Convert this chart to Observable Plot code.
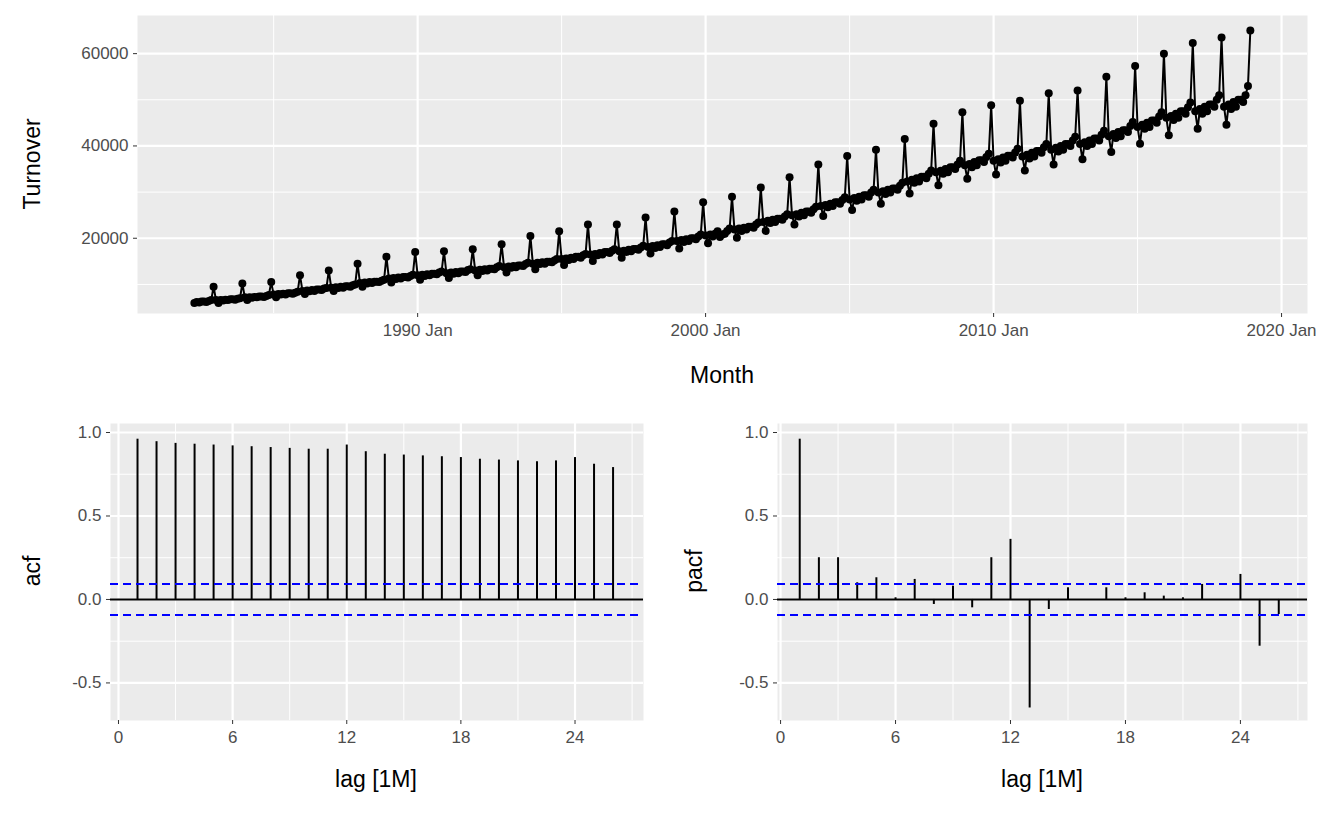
<!DOCTYPE html>
<html>
<head>
<meta charset="utf-8">
<script src="https://cdn.jsdelivr.net/npm/d3@7"></script>
<script src="https://cdn.jsdelivr.net/npm/@observablehq/plot@0.6"></script>
<style>
  body { margin: 0; background: #fff; font-family: Arial, "Liberation Sans", sans-serif; }
  #wrap { position: relative; width: 1322px; height: 817px; overflow: hidden; }
  .panel { position: absolute; }
  .title { position: absolute; font-size: 23px; color: #000; white-space: nowrap; }
  .rot { transform: translate(-50%, -50%) rotate(-90deg); }
  .hc { transform: translateX(-50%); }
</style>
</head>
<body>
<div id="wrap">
  <div class="panel" id="top" style="left:0;top:0"></div>
  <div class="panel" id="acf" style="left:0;top:390px"></div>
  <div class="panel" id="pacf" style="left:661px;top:390px"></div>
  <div class="title rot" style="left:32px;top:164px">Turnover</div>
  <div class="title hc" style="left:722px;top:362px">Month</div>
  <div class="title rot" style="left:32px;top:571px">acf</div>
  <div class="title hc" style="left:376px;top:766px">lag [1M]</div>
  <div class="title rot" style="left:694px;top:571px">pacf</div>
  <div class="title hc" style="left:1042px;top:766px">lag [1M]</div>
</div>
<script>
// monthly turnover in thousands, series starts 1982 Apr
const startYear = 1982, startMonth = 3;
const turnoverK = [
  [6.0, 6.2, 6.1, 6.3, 6.3, 6.2, 6.4, 6.6, 9.5],
  [6.6, 6.0, 6.6, 6.5, 6.7, 6.6, 6.8, 6.8, 6.7, 6.9, 7.0, 10.2],
  [7.2, 6.6, 7.2, 7.1, 7.3, 7.2, 7.4, 7.4, 7.3, 7.5, 7.7, 10.5],
  [7.8, 7.2, 7.9, 7.8, 8.0, 7.8, 8.1, 8.1, 8.0, 8.2, 8.4, 12.0],
  [8.6, 7.9, 8.7, 8.5, 8.8, 8.6, 8.9, 8.9, 8.8, 9.1, 9.2, 13.0],
  [9.3, 8.6, 9.4, 9.2, 9.5, 9.3, 9.6, 9.6, 9.5, 9.8, 10.0, 14.5],
  [10.3, 9.5, 10.4, 10.2, 10.5, 10.3, 10.6, 10.6, 10.5, 10.8, 11.0, 16.0],
  [11.3, 10.4, 11.4, 11.2, 11.5, 11.3, 11.6, 11.6, 11.5, 11.8, 12.1, 17.0],
  [12.0, 11.0, 12.1, 11.8, 12.2, 12.0, 12.3, 12.3, 12.2, 12.6, 12.8, 17.2],
  [12.4, 11.4, 12.6, 12.3, 12.7, 12.4, 12.8, 12.8, 12.7, 13.1, 13.3, 17.6],
  [13.0, 12.0, 13.2, 12.9, 13.3, 13.0, 13.4, 13.4, 13.3, 13.7, 14.0, 18.7],
  [13.7, 12.6, 13.9, 13.6, 14.0, 13.7, 14.1, 14.1, 14.0, 14.4, 14.7, 20.5],
  [14.5, 13.3, 14.7, 14.4, 14.8, 14.5, 14.9, 14.9, 14.8, 15.2, 15.5, 21.5],
  [15.5, 14.2, 15.6, 15.3, 15.8, 15.5, 16.0, 16.0, 15.8, 16.3, 16.6, 23.0],
  [16.5, 15.1, 16.6, 16.3, 16.8, 16.5, 17.0, 17.0, 16.8, 17.3, 17.6, 23.0],
  [17.2, 15.8, 17.3, 17.0, 17.5, 17.2, 17.7, 17.7, 17.5, 18.0, 18.4, 24.5],
  [18.1, 16.7, 18.3, 17.9, 18.5, 18.1, 18.7, 18.7, 18.5, 19.1, 19.4, 25.8],
  [19.4, 17.8, 19.6, 19.2, 19.8, 19.4, 20.0, 20.0, 19.8, 20.4, 20.8, 27.8],
  [20.6, 18.9, 20.8, 20.4, 21.0, 21.5, 20.3, 20.8, 21.0, 21.6, 22.1, 29.0],
  [21.9, 20.1, 22.1, 21.6, 22.3, 21.9, 22.5, 22.5, 22.3, 23.0, 23.4, 31.0],
  [23.5, 21.6, 23.8, 23.3, 24.0, 23.5, 24.2, 24.2, 24.0, 24.7, 25.2, 33.2],
  [25.0, 23.0, 25.2, 24.7, 25.5, 25.0, 25.8, 25.8, 25.5, 26.3, 26.8, 36.0],
  [27.0, 24.8, 27.2, 26.7, 27.5, 27.0, 27.8, 27.8, 27.5, 28.3, 28.9, 37.8],
  [28.4, 26.1, 28.7, 28.1, 29.0, 28.4, 29.3, 29.3, 29.0, 29.9, 30.5, 39.2],
  [29.9, 27.5, 30.2, 29.6, 30.5, 29.9, 30.8, 30.8, 30.5, 31.4, 32.0, 41.5],
  [32.3, 29.7, 32.7, 32.0, 33.0, 32.3, 33.3, 33.3, 33.0, 34.0, 34.7, 44.8],
  [34.3, 31.5, 34.6, 34.0, 35.0, 34.3, 35.4, 35.4, 35.0, 36.0, 36.8, 47.3],
  [35.8, 32.9, 36.1, 35.4, 36.5, 35.8, 36.9, 36.9, 36.5, 37.6, 38.3, 48.8],
  [36.8, 33.8, 37.1, 36.4, 37.5, 36.8, 37.9, 37.9, 37.5, 38.6, 39.4, 49.8],
  [37.7, 34.7, 38.1, 37.3, 38.5, 37.7, 38.9, 38.9, 38.5, 39.7, 40.4, 51.4],
  [39.2, 36.0, 39.6, 38.8, 40.0, 39.2, 40.4, 40.4, 40.0, 41.2, 42.0, 52.0],
  [40.4, 37.1, 40.8, 40.0, 41.2, 40.4, 41.6, 41.6, 41.2, 42.4, 43.3, 55.0],
  [42.1, 38.7, 42.6, 41.7, 43.0, 42.1, 43.4, 43.4, 43.0, 44.3, 45.2, 57.3],
  [44.1, 40.5, 44.6, 43.7, 45.0, 44.1, 45.5, 45.5, 45.0, 46.4, 47.3, 60.0],
  [46.1, 42.3, 46.5, 45.6, 47.0, 46.1, 47.5, 47.5, 47.0, 48.4, 49.4, 62.3],
  [47.5, 43.7, 48.0, 47.0, 48.5, 47.5, 49.0, 49.0, 48.5, 50.0, 51.0, 63.5],
  [48.5, 44.6, 49.0, 48.0, 49.5, 48.5, 50.0, 50.0, 49.5, 51.0, 53.0, 65.0]
];

const lags = d3.range(1, 27);
const acfValues = [0.96, 0.945, 0.935, 0.93, 0.925, 0.92, 0.915, 0.91, 0.905, 0.9, 0.9, 0.925,
  0.885, 0.87, 0.865, 0.86, 0.855, 0.85, 0.84, 0.835, 0.83, 0.825, 0.83, 0.85, 0.81, 0.79];
const pacfValues = [0.96, 0.25, 0.25, 0.1, 0.13, 0.01, 0.12, -0.03, 0.08, -0.05, 0.25, 0.36,
  -0.65, -0.06, 0.07, 0.0, 0.07, 0.01, 0.04, 0.02, 0.01, 0.09, 0.0, 0.15, -0.28, -0.09];
const ciBound = 0.0933;

const panelBg = "#ebebeb";
const tickStyle = {tickSize: 4, stroke: "#333", fill: "#4d4d4d", fontSize: 17, label: null};

// build monthly table
let series = [];
turnoverK.forEach((year, i) => {
  year.forEach((v, j) => {
    let m = (i == 0 ? startMonth : 0) + j;
    series.push({month: new Date(Date.UTC(startYear + i, m, 1)), turnover: v * 1000});
  });
});

const yr = (y) => new Date(Date.UTC(y, 0, 1));

let turnoverPlot = Plot.plot({
  width: 1322, height: 390,
  marginLeft: 137, marginRight: 15, marginTop: 15, marginBottom: 77,
  style: {background: "transparent", fontFamily: "Arial, 'Liberation Sans', sans-serif", overflow: "visible"},
  x: {type: "utc", domain: [new Date(Date.UTC(1980, 3, 10)), new Date(Date.UTC(2020, 10, 25))]},
  y: {domain: [3700, 68260]},
  marks: [
    Plot.frame({fill: panelBg, stroke: null}),
    Plot.ruleY([10000, 30000, 50000], {stroke: "#fff", strokeWidth: 1}),
    Plot.ruleX([1985, 1995, 2005, 2015].map(yr), {stroke: "#fff", strokeWidth: 1}),
    Plot.ruleY([20000, 40000, 60000], {stroke: "#fff", strokeWidth: 2.2}),
    Plot.ruleX([1990, 2000, 2010, 2020].map(yr), {stroke: "#fff", strokeWidth: 2.2}),
    Plot.line(series, {x: "month", y: "turnover", stroke: "#000", strokeWidth: 2}),
    Plot.dot(series, {x: "month", y: "turnover", fill: "#000", r: 4}),
    Plot.axisX({...tickStyle, ticks: [1990, 2000, 2010, 2020].map(yr),
      tickFormat: d => d.getUTCFullYear() + " Jan", tickPadding: 6}),
    Plot.axisY({...tickStyle, ticks: [20000, 40000, 60000], tickFormat: d => String(d)})
  ]
});
document.getElementById("top").append(turnoverPlot);

function corrPlot(values, marginLeft, xDomain) {
  let rows = lags.map((l, i) => ({lag: l, value: values[i]}));
  return Plot.plot({
    width: 661, height: 427,
    marginLeft: marginLeft, marginRight: 661 - marginLeft - (xDomain[2]), marginTop: 33, marginBottom: 97,
    style: {background: "transparent", fontFamily: "Arial, 'Liberation Sans', sans-serif"},
    x: {domain: [xDomain[0], xDomain[1]]},
    y: {domain: [-0.725, 1.054]},
    marks: [
      Plot.frame({fill: panelBg, stroke: null}),
      Plot.ruleY([0.75, 0.25, -0.25], {stroke: "#fff", strokeWidth: 1}),
      Plot.ruleX([3, 9, 15, 21, 27], {stroke: "#fff", strokeWidth: 1}),
      Plot.ruleY([1, 0.5, 0, -0.5], {stroke: "#fff", strokeWidth: 2.2}),
      Plot.ruleX([0, 6, 12, 18, 24], {stroke: "#fff", strokeWidth: 2.2}),
      Plot.ruleX(rows, {x: "lag", y1: 0, y2: "value", stroke: "#000", strokeWidth: 2}),
      Plot.ruleY([0], {stroke: "#000", strokeWidth: 2}),
      Plot.ruleY([ciBound, -ciBound], {stroke: "#0000ff", strokeWidth: 2, strokeDasharray: "8,5"}),
      Plot.axisX({...tickStyle, ticks: [0, 6, 12, 18, 24], tickFormat: d => String(d), tickPadding: 6}),
      Plot.axisY({...tickStyle, ticks: [1, 0.5, 0, -0.5], tickFormat: d => d.toFixed(1)})
    ]
  });
}

// [domain min, domain max, plot width]
document.getElementById("acf").append(corrPlot(acfValues, 110, [-0.42, 27.6, 533]));
document.getElementById("pacf").append(corrPlot(pacfValues, 116, [-0.16, 27.5, 530]));
</script>
</body>
</html>
